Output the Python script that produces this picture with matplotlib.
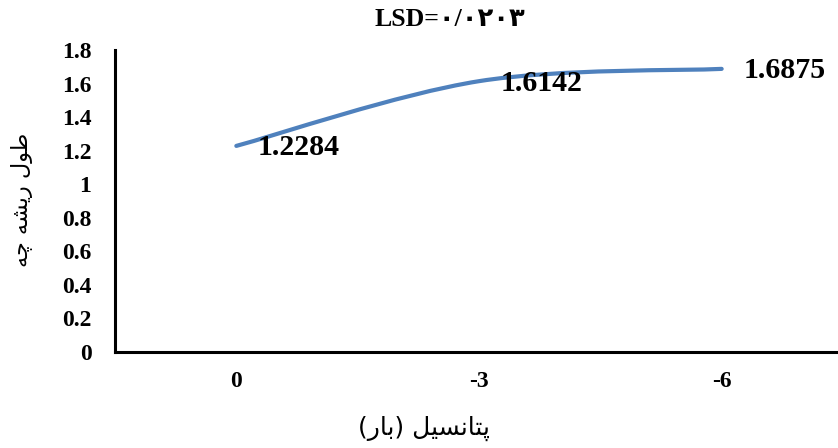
import numpy as np
import matplotlib
matplotlib.use("Agg")
import matplotlib.pyplot as plt
from matplotlib.path import Path
from matplotlib.patches import PathPatch

# -------------------- Data --------------------
categories = ["0", "-3", "-6"]
values = [1.2284, 1.6142, 1.6875]
y_ticks = [0, 0.2, 0.4, 0.6, 0.8, 1, 1.2, 1.4, 1.6, 1.8]

title = "LSD=\u06F0/\u06F0\u06F2\u06F0\u06F3"
# Persian labels, pre-shaped presentation forms in visual (left to right) order
ylabel = "\uFEEA\uFB7C \uFEEA\uFEB8\uFEF3\uFEAD \uFEDD\uFEEE\uFEC3"    # طول ریشه چه
xlabel = "(\uFEAD\uFE8E\uFE91) \uFEDE\uFEF4\uFEB4\uFEE7\uFE8E\uFE98\uFB58"  # پتانسیل (بار)

line_color = "#4F81BD"
serif = ["Liberation Serif", "DejaVu Sans"]

W, H = 838, 448
fig = plt.figure(figsize=(W / 100, H / 100), dpi=100)

# axes in pixel box: left 115, right 843, top 50, bottom 352
ax = fig.add_axes([115 / W, (H - 352) / H, 728 / W, 302 / H])
ax.set_xlim(-0.5, 2.5)
ax.set_ylim(0, 1.8)

# smoothed line (Excel style cardinal spline through the points)
xs = np.arange(len(values), dtype=float)
ys = np.array(values)
pts = np.column_stack([xs, ys])
verts = [pts[0]]
codes = [Path.MOVETO]
for i in range(len(pts) - 1):
    p_prev = pts[max(i - 1, 0)]
    p0, p1 = pts[i], pts[i + 1]
    p_next = pts[min(i + 2, len(pts) - 1)]
    c1 = p0 + (p1 - p_prev) / 6
    c2 = p1 - (p_next - p0) / 6
    verts += [c1, c2, p1]
    codes += [Path.CURVE4] * 3
ax.add_patch(PathPatch(Path(verts, codes), facecolor="none",
                       edgecolor=line_color, lw=3.0, capstyle="round"))

for i, v in enumerate(values):
    ax.annotate(f"{v:.4f}", (xs[i], v), xytext=(15.5, -1.5),
                textcoords="offset points", va="center", ha="left",
                fontsize=21.5, fontweight="bold", family=serif)

ax.set_xticks(xs)
ax.set_xticklabels(categories)
ax.set_yticks(y_ticks)
ax.set_yticklabels([f"{t:g}" for t in y_ticks])
for lab in ax.get_xticklabels() + ax.get_yticklabels():
    lab.set_fontfamily(serif)
    lab.set_fontweight("bold")
    lab.set_fontsize(17)
ax.tick_params(axis="both", length=0)
ax.tick_params(axis="y", pad=17)
ax.tick_params(axis="x", pad=14)

for s in ["top", "right"]:
    ax.spines[s].set_visible(False)
for s in ["left", "bottom"]:
    ax.spines[s].set_linewidth(2.2)
    ax.spines[s].set_color("black")

fig.text(450 / W, 1 - 19 / H, title, ha="center", va="center",
         fontsize=18.5, fontweight="bold", family=serif)
fig.text(424 / W, 1 - 428 / H, xlabel, ha="center", va="center",
         fontsize=18, family=["DejaVu Sans"])
fig.text(22 / W, 1 - 200 / H, ylabel, ha="center", va="center",
         rotation=90, fontsize=16, family=["DejaVu Sans"])

fig.savefig("out.png", dpi=100)
